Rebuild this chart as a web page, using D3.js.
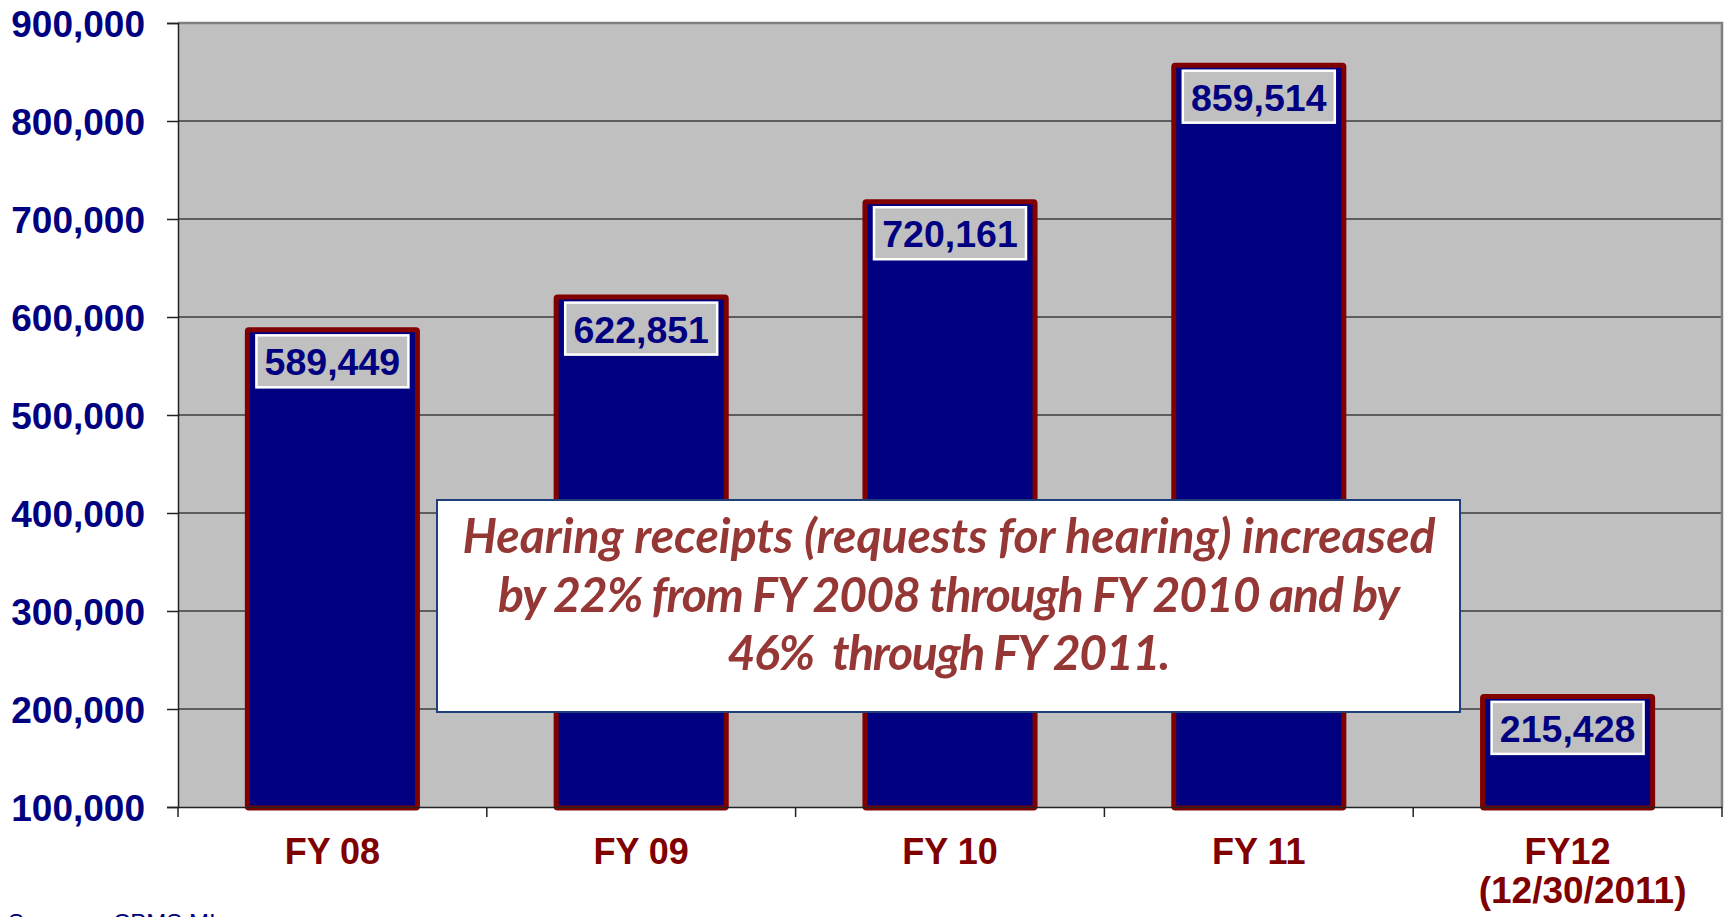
<!DOCTYPE html>
<html>
<head>
<meta charset="utf-8">
<script src="https://cdn.jsdelivr.net/npm/d3@7"></script>
<style>
  body { margin: 0; background: #fff; }
  svg { display: block; }
</style>
</head>
<body>
<svg class="receipts"></svg>
<script>
// Data
var categories = ["FY 08", "FY 09", "FY 10", "FY 11", "FY12"];
var subLabels = ["", "", "", "", "(12/30/2011)"];
var receipts = [589449, 622851, 720161, 859514, 215428];
var yTicks = [100000, 200000, 300000, 400000, 500000, 600000, 700000, 800000, 900000];
var noteLines = [
    "Hearing receipts (requests for hearing) increased",
    "by 22% from FY 2008 through FY 2010 and by",
    "46%  through FY 2011."
];
// widths of the note lines
var noteWidths = [973, 902, 443];

// Total dimensions
var w = 1728,
    h = 917;

var svg = d3.select(".receipts")
    .attr("width", w)
    .attr("height", h);

var margin = { top: 23, right: 6, bottom: 110, left: 178 },
    width = w - margin.left - margin.right,
    height = h - margin.top - margin.bottom,
    g = svg.append("g").attr("transform", "translate(" + margin.left + "," + margin.top + ")");

var navy = "#000080",
    maroon = "#800000";

// Scales
var xScale = d3.scaleBand()
    .domain(categories)
    .range([0, width])
    .paddingInner(0.433)
    .paddingOuter(0.2165);

var yScale = d3.scaleLinear()
    .domain([100000, 900000])
    .range([height, 0]);

// Plot background
g.append("rect")
    .attr("width", width)
    .attr("height", height)
    .attr("fill", "#c0c0c0");

// Gridlines
g.append("g")
    .attr("class", "grid")
    .selectAll("line")
    .data(yTicks.slice(1, -1))
    .enter().append("line")
    .attr("x1", 0)
    .attr("x2", width)
    .attr("y1", function(d) { return yScale(d); })
    .attr("y2", function(d) { return yScale(d); })
    .attr("stroke", "#3c3c3c")
    .attr("stroke-width", 1.5);

// Frame top / right
g.append("path")
    .attr("d", "M0,0H" + width + "V" + height)
    .attr("fill", "none")
    .attr("stroke", "#808080")
    .attr("stroke-width", 2.5);

// Bars
var bw = 5;
g.selectAll(".bar")
    .data(receipts)
    .enter().append("rect")
    .attr("class", "bar")
    .attr("x", function(d, i) { return xScale(categories[i]) + bw / 2; })
    .attr("y", function(d) { return yScale(d) + bw / 2; })
    .attr("width", xScale.bandwidth() - bw)
    .attr("height", function(d) { return yScale(100000) - yScale(d) - bw / 2 + 1; })
    .attr("fill", navy)
    .attr("stroke", maroon)
    .attr("stroke-width", bw)
    .attr("rx", 1.5);

// Value labels
var boxW = 152, boxH = 52;
var labels = g.selectAll(".lbl")
    .data(receipts)
    .enter().append("g")
    .attr("class", "lbl")
    .attr("transform", function(d, i) {
        return "translate(" + (xScale(categories[i]) + xScale.bandwidth() / 2) + "," + (yScale(d) + 8) + ")";
    });

labels.append("rect")
    .attr("x", -boxW / 2)
    .attr("width", boxW)
    .attr("height", boxH)
    .attr("fill", "#c0c0c0")
    .attr("stroke", "#fff")
    .attr("stroke-width", 2.5);

labels.append("text")
    .attr("y", 40)
    .attr("text-anchor", "middle")
    .attr("font-family", "Liberation Sans, Arial, sans-serif")
    .attr("font-weight", "bold")
    .attr("font-size", "37.5px")
    .attr("fill", navy)
    .text(function(d) { return d3.format(",")(d); });

// Axes
var yAxis = d3.axisLeft(yScale)
    .tickValues(yTicks)
    .tickSize(11)
    .tickFormat(d3.format(","));

var gy = g.append("g")
    .attr("class", "y axis")
    .call(yAxis);

gy.select(".domain").attr("stroke", "#222").attr("stroke-width", 1.5);
gy.selectAll(".tick line").attr("stroke", "#222").attr("stroke-width", 1.5);
gy.selectAll(".tick text")
    .attr("x", -33)
    .attr("dy", "0.36em")
    .attr("font-family", "Liberation Sans, Arial, sans-serif")
    .attr("font-weight", "bold")
    .attr("font-size", "37px")
    .attr("fill", navy);

var xAxis = d3.axisBottom(xScale).tickSize(0).tickFormat("");
var gx = g.append("g")
    .attr("class", "x axis")
    .attr("transform", "translate(0," + height + ")")
    .call(xAxis);
gx.select(".domain").attr("stroke", "#222").attr("stroke-width", 1.5);

// category boundary ticks
var step = xScale.step();
gx.selectAll(".sep")
    .data(d3.range(categories.length + 1))
    .enter().append("line")
    .attr("class", "sep")
    .attr("x1", function(d) { return d * step; })
    .attr("x2", function(d) { return d * step; })
    .attr("y1", 0)
    .attr("y2", 10)
    .attr("stroke", "#222")
    .attr("stroke-width", 1.5);

// Category labels
var catText = g.selectAll(".cat")
    .data(categories)
    .enter().append("text")
    .attr("class", "cat")
    .attr("x", function(d) { return xScale(d) + xScale.bandwidth() / 2; })
    .attr("y", height + 57)
    .attr("text-anchor", "middle")
    .attr("font-family", "Liberation Sans, Arial, sans-serif")
    .attr("font-weight", "bold")
    .attr("font-size", "36px")
    .attr("fill", maroon);

catText.append("tspan")
    .text(function(d) { return d; });
catText.append("tspan")
    .attr("x", function(d) { return xScale(d) + xScale.bandwidth() / 2 + 15; })
    .attr("dy", 39)
    .attr("font-size", "37px")
    .text(function(d, i) { return subLabels[i]; });

// Annotation box
var note = svg.append("g").attr("class", "note");
note.append("rect")
    .attr("x", 437)
    .attr("y", 500)
    .attr("width", 1023)
    .attr("height", 212)
    .attr("fill", "#fff")
    .attr("stroke", "#1f3f7a")
    .attr("stroke-width", 2);

var noteText = note.selectAll("text")
    .data(noteLines)
    .enter().append("text")
    .attr("x", 949)
    .attr("y", function(d, i) { return 553 + i * 58.5; })
    .attr("text-anchor", "middle")
    .attr("font-family", "Lato, 'Open Sans', sans-serif")
    .attr("font-style", "italic")
    .attr("font-weight", "bold")
    .attr("font-size", "44px")
    .attr("fill", "#953735")
    .style("white-space", "pre")
    .text(function(d) { return d; });

var len = noteText.node().getComputedTextLength();
noteText.attr("font-size", (44 * 973 / len) + "px")
    .attr("textLength", function(d, i) { return noteWidths[i]; })
    .attr("lengthAdjust", "spacing");

// Source line (cut off at the bottom, as in the original)
svg.append("text")
    .attr("x", 8)
    .attr("y", 931)
    .attr("font-family", "Liberation Sans, Arial, sans-serif")
    .attr("font-size", "24px")
    .attr("fill", navy)
    .text("Source:");
svg.append("text")
    .attr("x", 113)
    .attr("y", 931)
    .attr("font-family", "Liberation Sans, Arial, sans-serif")
    .attr("font-size", "24px")
    .attr("fill", navy)
    .text("CPMS MI");
</script>
</body>
</html>
